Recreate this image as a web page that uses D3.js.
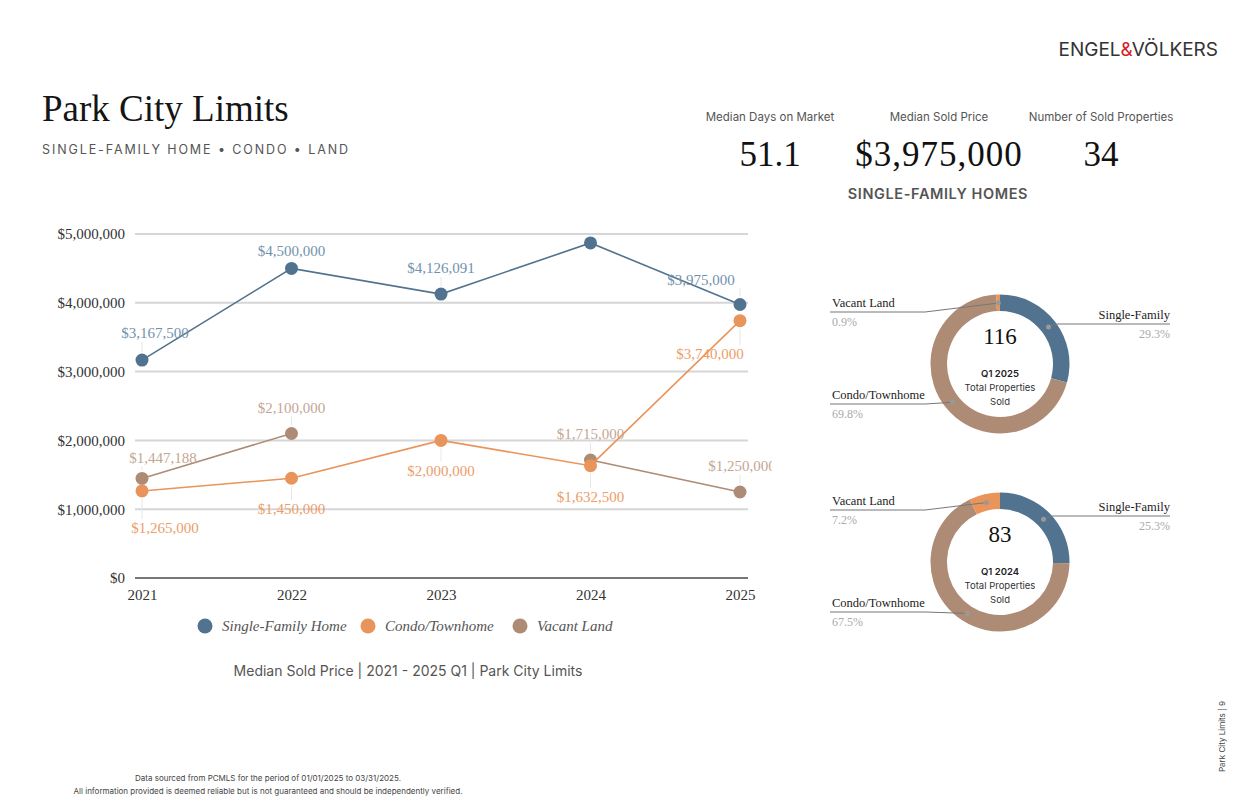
<!DOCTYPE html>
<html>
<head>
<meta charset="utf-8">
<script src="https://cdn.jsdelivr.net/npm/d3@7"></script>
<style>
  body { margin: 0; background: #fff; }
  svg text { font-family: "Liberation Serif", serif; }
  .sans { font-family: Inter, "Noto Sans", sans-serif !important; }
</style>
</head>
<body>
<script>
// data
const years = [2021, 2022, 2023, 2024, 2025];
const singleFamily = [3167500, 4500000, 4126091, 4870000, 3975000];
const condo = [1265000, 1450000, 2000000, 1632500, 3740000];
const vacantLand = [1447188, 2100000, null, 1715000, 1250000];
const yTicks = [0, 1000000, 2000000, 3000000, 4000000, 5000000];
const seriesNames = ["Single-Family Home", "Condo/Townhome", "Vacant Land"];

const donutNames = ["Single-Family", "Condo/Townhome", "Vacant Land"];
const share2025 = [29.3, 69.8, 0.9];
const share2024 = [25.3, 67.5, 7.2];
const totals = [116, 83];
const donutQuarters = ["Q1 2025", "Q1 2024"];

const statLabels = ["Median Days on Market", "Median Sold Price", "Number of Sold Properties"];
const statValues = ["51.1", "$3,975,000", "34"];

const W = 1252, H = 810;
const colors = ["#51738f", "#e8945a", "#ae8b75"];
const labelColors = ["#7192ae", "#ec9d68", "#c4a694"];
const donutColors = ["#51738f", "#ae8b75", "#e8945a"];

const svg = d3.select("body").append("svg").attr("width", W).attr("height", H);

// header
svg.append("text").attr("x", 42).attr("y", 121).attr("font-size", 37).attr("fill", "#151515")
  .text("Park City Limits");
svg.append("text").attr("class", "sans").attr("x", 42).attr("y", 154).attr("font-size", 12.5)
  .attr("letter-spacing", 1.9).attr("fill", "#555")
  .text("SINGLE-FAMILY HOME  \u2022  CONDO  \u2022  LAND");

const logo = svg.append("text").attr("class", "sans").attr("x", 1218).attr("y", 56)
  .attr("text-anchor", "end").attr("font-size", 19).attr("font-weight", 400).attr("fill", "#333");
logo.append("tspan").text("ENGEL");
logo.append("tspan").attr("fill", "#d81e2c").text("&");
logo.append("tspan").text("VÖLKERS");

const statX = [770, 939, 1101];
statLabels.forEach((s, i) => {
  svg.append("text").attr("class", "sans").attr("x", statX[i]).attr("y", 121)
    .attr("text-anchor", "middle").attr("font-size", 11.5).attr("fill", "#555").text(s);
  svg.append("text").attr("x", statX[i]).attr("y", 166)
    .attr("text-anchor", "middle").attr("font-size", 35).attr("letter-spacing", i === 1 ? 1 : 0)
    .attr("fill", "#111").text(statValues[i]);
});
svg.append("text").attr("class", "sans").attr("x", 938).attr("y", 199)
  .attr("text-anchor", "middle").attr("font-size", 14.5).attr("font-weight", 600)
  .attr("letter-spacing", 0.6).attr("fill", "#555").text("SINGLE-FAMILY HOMES");

// line chart
const x = d3.scaleLinear().domain([2021, 2025]).range([142, 740]);
const y = d3.scaleLinear().domain([0, 5000000]).range([578, 234]);

const grid = svg.append("g");
grid.selectAll("line").data(yTicks).enter().append("line")
  .attr("x1", 135).attr("x2", 748)
  .attr("y1", d => y(d)).attr("y2", d => y(d))
  .attr("stroke", d => d === 0 ? "#777" : "#d6d6d6").attr("stroke-width", 2);

const yAxis = svg.append("g").attr("transform", "translate(128,0)")
  .call(d3.axisLeft(y).tickValues(yTicks).tickSize(0).tickFormat(d => "$" + d3.format(",")(d)));
yAxis.select(".domain").remove();
yAxis.selectAll("text").attr("font-size", 15).attr("fill", "#333")
  .style("font-family", "Liberation Serif, serif").attr("dy", "0.32em");

const xAxis = svg.append("g").attr("transform", "translate(0,586)")
  .call(d3.axisBottom(x).tickValues(years).tickSize(0).tickFormat(d3.format("d")));
xAxis.select(".domain").remove();
xAxis.selectAll("text").attr("font-size", 15).attr("fill", "#333")
  .style("font-family", "Liberation Serif, serif");

const allSeries = [singleFamily, condo, vacantLand];
// label offsets [dx, dy] per series / year (null = no label)
const labelOffsets = [
  [[13, -27], [0, -18], [0, -26], null, [-39, -25]],
  [[23, 37], [0, 31], [0, 30], [0, 31], [-30, 33]],
  [[21, -21], [0, -26], null, [0, -26], [2, -26]]
];

svg.append("clipPath").attr("id", "plotclip").append("rect")
  .attr("x", 0).attr("y", 0).attr("width", 772).attr("height", H);

const line = d3.line().defined(d => d.v != null).x(d => x(d.year)).y(d => y(d.v));

// draw order: vacant land, condo, single-family
[2, 1, 0].forEach(si => {
  const pts = years.map((yr, i) => ({ year: yr, v: allSeries[si][i], off: labelOffsets[si][i] }));
  const g = svg.append("g");
  // leader lines
  g.selectAll("line.lead").data(pts.filter(d => d.v != null && d.off)).enter().append("line")
    .attr("x1", d => x(d.year)).attr("x2", d => x(d.year))
    .attr("y1", d => y(d.v) + Math.sign(d.off[1]) * 8)
    .attr("y2", d => y(d.v) + d.off[1] - Math.sign(d.off[1]) * 9)
    .attr("stroke", "#e6e6e6").attr("stroke-width", 1);
  g.append("path").datum(pts).attr("d", line).attr("fill", "none")
    .attr("stroke", colors[si]).attr("stroke-width", 1.6);
  g.selectAll("circle").data(pts.filter(d => d.v != null)).enter().append("circle")
    .attr("cx", d => x(d.year)).attr("cy", d => y(d.v)).attr("r", 6.5).attr("fill", colors[si]);
  g.selectAll("text").data(pts.filter(d => d.v != null && d.off)).enter().append("text")
    .attr("clip-path", "url(#plotclip)")
    .attr("x", d => x(d.year) + d.off[0]).attr("y", d => y(d.v) + d.off[1])
    .attr("dy", "0.35em").attr("text-anchor", "middle").attr("font-size", 15)
    .attr("fill", labelColors[si]).text(d => "$" + d3.format(",")(d.v));
});

// legend
const legX = [205, 368, 520];
seriesNames.forEach((n, i) => {
  svg.append("circle").attr("cx", legX[i]).attr("cy", 626).attr("r", 7.5).attr("fill", colors[i]);
  svg.append("text").attr("x", legX[i] + 17).attr("y", 631).attr("font-size", 15)
    .attr("font-style", "italic").attr("fill", "#555").text(n);
});
svg.append("text").attr("class", "sans").attr("x", 408).attr("y", 676).attr("text-anchor", "middle")
  .attr("font-size", 14).attr("fill", "#555")
  .text("Median Sold Price  |  2021 - 2025 Q1  |  Park City Limits");

// donuts
const pie = d3.pie().sort(null).value(d => d);
const arc = d3.arc().innerRadius(53).outerRadius(69.5);
const midArc = d3.arc().innerRadius(61).outerRadius(61);
const donutCenters = [[1000, 364], [1000, 562]];
// leader line y for [single-family, condo, vacant land]
const donutLabelY = [[324, 404, 312], [516, 612, 510]];

[share2025, share2024].forEach((shares, di) => {
  const [cx, cy] = donutCenters[di];
  const g = svg.append("g").attr("transform", `translate(${cx},${cy})`);
  const arcs = pie(shares);
  g.selectAll("path").data(arcs).enter().append("path")
    .attr("d", arc).attr("fill", (d, i) => donutColors[i]);

  g.append("text").attr("y", -20).attr("text-anchor", "middle").attr("font-size", 23)
    .attr("fill", "#111").text(totals[di]);
  g.append("text").attr("class", "sans").attr("y", 13).attr("text-anchor", "middle")
    .attr("font-size", 9.5).attr("font-weight", 600).attr("fill", "#222").text(donutQuarters[di]);
  g.append("text").attr("class", "sans").attr("y", 27).attr("text-anchor", "middle")
    .attr("font-size", 9.5).attr("fill", "#333").text("Total Properties");
  g.append("text").attr("class", "sans").attr("y", 41).attr("text-anchor", "middle")
    .attr("font-size", 9.5).attr("fill", "#333").text("Sold");

  arcs.forEach((a, i) => {
    const c = midArc.centroid(a);
    const px = cx + c[0], py = cy + c[1];
    const ly = donutLabelY[di][i];
    let pts, tx, anchor;
    if (i === 0) {
      pts = [[px, py], [px + 8, ly], [1170, ly]];
      tx = 1170; anchor = "end";
    } else {
      const elbow = Math.min(925, px);
      pts = [[830, ly], [elbow, ly], [px, py]];
      tx = 832; anchor = "start";
    }
    svg.append("path").attr("d", d3.line()(pts)).attr("fill", "none")
      .attr("stroke", "#777").attr("stroke-width", 1);
    svg.append("circle").attr("cx", px).attr("cy", py).attr("r", 2.5).attr("fill", "#999");
    svg.append("text").attr("x", tx).attr("y", ly - 5).attr("text-anchor", anchor)
      .attr("font-size", 12.5).attr("fill", "#222").text(donutNames[i]);
    svg.append("text").attr("x", tx).attr("y", ly + 14).attr("text-anchor", anchor)
      .attr("font-size", 12).attr("fill", "#aaa").text(shares[i] + "%");
  });
});

// footer
svg.append("text").attr("class", "sans").attr("x", 268).attr("y", 781).attr("text-anchor", "middle")
  .attr("font-size", 8).attr("fill", "#444")
  .text("Data sourced from PCMLS for the period of 01/01/2025 to 03/31/2025.");
svg.append("text").attr("class", "sans").attr("x", 268).attr("y", 794).attr("text-anchor", "middle")
  .attr("font-size", 8).attr("fill", "#444")
  .text("All information provided is deemed reliable but is not guaranteed and should be independently verified.");
svg.append("text").attr("class", "sans").attr("transform", "translate(1225,772) rotate(-90)")
  .attr("font-size", 8).attr("fill", "#444").text("Park City Limits | 9");
</script>
</body>
</html>
